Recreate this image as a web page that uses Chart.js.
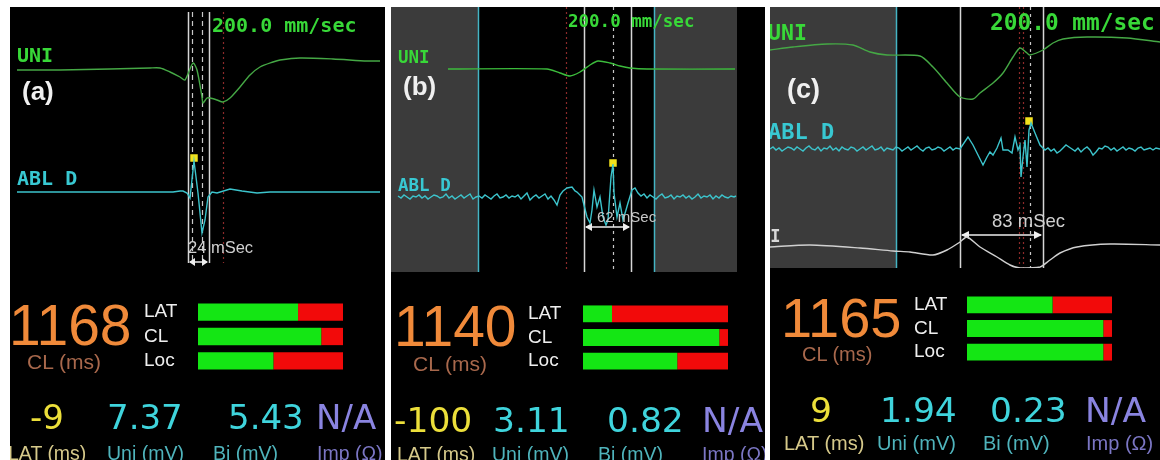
<!DOCTYPE html>
<html>
<head>
<meta charset="utf-8">
<script src="https://cdn.jsdelivr.net/npm/chart.js@4.4.1/dist/chart.umd.min.js"></script>
<style>
  html, body { margin: 0; padding: 0; background: #fff; }
  #page { position: relative; width: 1160px; height: 460px; overflow: hidden; background: #fff; }
  .panel { position: absolute; top: 7px; height: 453px; background: #000; overflow: hidden; }
  .panel canvas { position: absolute; }
  .t { position: absolute; white-space: nowrap; line-height: 1; }
  .mono { font-family: "DejaVu Sans Mono", monospace; font-weight: bold; }
  .sans { font-family: "Liberation Sans", Arial, sans-serif; }
  .bold { font-weight: bold; }
  .dv { font-family: "DejaVu Sans", sans-serif; }
</style>
</head>
<body>
<div id="page">
  <div class="panel" id="pa" style="left:10px;width:375px"></div>
  <div class="panel" id="pb" style="left:391px;width:374px"></div>
  <div class="panel" id="pc" style="left:770px;width:390px"></div>
</div>
<script>
// samples counted from the left edge of each strip, amplitude relative to the trace baseline

// (a)
const uniA = [[7,0],[50,0],[100,1],[140,2],[150,2],[160,-2],[170,-7],[175,-10],[183,7],[187,0],[192,-27],[193,-33],[197,-28],[200,-28],[207,-30],[213,-32],[220,-28],[230,-17],[240,-5],[250,3],[263,8],[270,10],[290,12],[323,11],[357,9],[370,9]];
const ablA = [[7,0],[100,0],[163,0],[170,1],[173,1],[177,-1],[180,-6],[184,31],[188,-1],[192,-41],[195,-28],[198,-5],[202,0],[207,-1],[220,3],[232,1],[247,-1],[260,0],[370,0]];
const latA = [[184,34]];
const solidA = [178, 199];
const dashA = [182, 192];
const redA = [213];

// (b)
const uniB = [[57,0],[156,0],[169,-4],[179,-7],[189,-3],[199,4],[207,8],[219,6],[229,3],[239,1],[256,0],[344,0]];
const ablB = [[7,1],[10,-1],[13,2],[16,0],[19,-2],[22,1],[25,0],[28,2],[31,-1],[34,1],[37,-2],[40,0],[43,2],[46,1],[49,-1],[52,0],[55,3],[58,-1],[61,1],[64,-2],[67,0],[70,2],[73,-1],[76,1],[79,3],[82,-2],[85,0],[88,1],[91,-1],[94,2],[97,0],[100,-2],[103,1],[106,3],[109,-1],[112,0],[115,2],[118,-1],[121,1],[124,0],[127,2],[130,-2],[133,1],[136,4],[139,-3],[142,0],[145,2],[148,-1],[151,1],[154,3],[157,-2],[160,1],[163,-3],[166,-8],[169,2],[172,6],[176,9],[181,10],[184,6],[186,5],[191,0],[196,-20],[199,-26],[201,-13],[203,7],[206,-10],[209,0],[212,-20],[215,-28],[217,-23],[220,20],[222,33],[223,4],[226,-20],[229,-6],[232,-23],[235,-13],[237,-6],[241,7],[244,9],[247,4],[250,1],[253,3],[256,-1],[259,2],[262,0],[265,-2],[268,1],[271,3],[274,-1],[277,0],[280,2],[283,-2],[286,1],[289,0],[292,2],[295,-1],[298,1],[301,-2],[304,0],[307,3],[310,-1],[313,1],[316,0],[319,2],[322,-2],[325,1],[328,-1],[331,2],[334,0],[337,-1],[340,1],[343,0],[345,1]];
const latB = [[222,34]];
const windowB = [87, 263];
const solidB = [193, 240];
const dotB = [222];
const redB = [175];

// (c)
const uniC = [[0,0],[23,3],[57,6],[83,5],[100,-2],[117,-5],[150,-6],[163,-17],[177,-33],[190,-47],[203,-49],[210,-43],[223,-33],[233,-23],[243,-7],[250,2],[257,-3],[260,-5],[273,0],[283,7],[293,11],[317,13],[357,12],[390,8]];
const ablC = [[0,0],[3,2],[6,-1],[9,1],[12,-2],[15,0],[18,2],[21,1],[24,-1],[27,2],[30,0],[33,-2],[36,1],[39,3],[42,0],[45,-1],[48,2],[51,-2],[54,1],[57,0],[60,3],[63,-1],[66,1],[69,-2],[72,2],[75,0],[78,-1],[81,2],[84,1],[87,-2],[90,0],[93,2],[96,-1],[99,1],[102,3],[105,-1],[108,0],[111,2],[114,-2],[117,1],[120,0],[123,-1],[126,2],[129,1],[132,-2],[135,0],[138,2],[141,-1],[144,1],[147,3],[150,0],[153,-2],[156,1],[159,2],[162,-1],[165,0],[168,2],[171,1],[174,-2],[177,0],[180,2],[183,-1],[186,1],[190,0],[198,12],[203,4],[208,-6],[213,-16],[217,-8],[220,-3],[223,-6],[227,1],[231,11],[233,-1],[238,-1],[242,-4],[245,12],[248,-1],[250,4],[251,-28],[253,-8],[255,9],[257,-18],[259,19],[261,26],[265,16],[270,4],[275,-1],[278,1],[281,-2],[284,0],[287,-4],[290,-2],[293,1],[296,4],[299,2],[302,0],[305,-2],[308,1],[311,-3],[314,0],[317,2],[320,-1],[323,-6],[326,-3],[329,1],[332,0],[335,3],[338,2],[341,-1],[344,1],[347,-2],[350,0],[353,2],[356,-1],[359,1],[362,0],[365,-2],[368,1],[371,2],[374,-1],[377,0],[380,1],[383,-1],[386,1],[390,0]];
const leadIIC = [[0,0],[40,2],[90,-1],[123,-4],[140,-5],[163,-8],[177,-3],[190,5],[197,10],[210,0],[227,-10],[240,-18],[250,-21],[270,-20],[280,-13],[290,-6],[307,0],[340,3],[390,2]];
const latC = [[259,28]];
const windowC = [126, 999];
const solidC = [190, 273];
const dotC = [260];
const redC = [249, 253];

// quality bars (% green) and readouts
const qualityLabels = ['LAT', 'CL', 'Loc'];
const qualityA = [69, 85, 52];
const qualityB = [20, 94, 65];
const qualityC = [59, 94, 94];
const cycleLength = ['1168', '1140', '1165'];
const readoutA = ['-9', '7.37', '5.43', 'N/A'];
const readoutB = ['-100', '3.11', '0.82', 'N/A'];
const readoutC = ['9', '1.94', '0.23', 'N/A'];
const readoutUnits = ['LAT (ms)', 'Uni (mV)', 'Bi (mV)', 'Imp (Ω)'];
const intervals = ['24 mSec', '62 mSec', '83 mSec'];

const pts = arr => arr.map(p => ({ x: p[0], y: p[1] }));

function markerPlugin(m) {
  return {
    id: 'markers',
    beforeDatasetsDraw(chart) {
      const ctx = chart.ctx, a = chart.chartArea, x = chart.scales.x;
      const top = a.top + m.inset, bottom = a.bottom - m.inset;
      ctx.save();
      if (m.window) {
        const x0 = x.getPixelForValue(m.window[0]);
        const x1 = x.getPixelForValue(m.window[1]);
        ctx.fillStyle = '#3b3b3b';
        if (x0 > a.left) ctx.fillRect(a.left, a.top, x0 - a.left, a.bottom - a.top);
        if (x1 < a.right) ctx.fillRect(x1, a.top, a.right - x1, a.bottom - a.top);
      }
      m.lines.forEach(l => {
        l.at.forEach(t => {
          const px = Math.round(x.getPixelForValue(t)) + 0.5;
          ctx.strokeStyle = l.color;
          ctx.lineWidth = l.width;
          ctx.setLineDash(l.dash);
          ctx.beginPath(); ctx.moveTo(px, top); ctx.lineTo(px, bottom); ctx.stroke();
        });
      });
      ctx.setLineDash([]);
      // interval arrow between the two solid markers
      const ar = m.arrow;
      const xa = x.getPixelForValue(ar.at[0]), xb = x.getPixelForValue(ar.at[1]), y = a.top + ar.y;
      ctx.strokeStyle = '#eeeeee'; ctx.fillStyle = '#eeeeee'; ctx.lineWidth = 1.5;
      ctx.beginPath(); ctx.moveTo(xa + 2, y); ctx.lineTo(xb - 2, y); ctx.stroke();
      [[xa, 1], [xb, -1]].forEach(([px, d]) => {
        ctx.beginPath();
        ctx.moveTo(px + d, y);
        ctx.lineTo(px + d * ar.head, y - 4);
        ctx.lineTo(px + d * ar.head, y + 4);
        ctx.closePath(); ctx.fill();
      });
      ctx.restore();
    }
  };
}

function buildTraceChart(panel, cfg) {
  const cv = document.createElement('canvas');
  cv.width = cfg.w; cv.height = cfg.h;
  cv.style.left = '0px'; cv.style.top = '0px';
  panel.appendChild(cv);
  const scales = { x: { type: 'linear', display: false, min: 0, max: cfg.w } };
  const datasets = [];
  cfg.traces.forEach((tr, i) => {
    const id = 'y' + i;
    scales[id] = { type: 'linear', display: false, min: -(cfg.h - tr.base), max: tr.base };
    datasets.push({
      data: pts(tr.data), yAxisID: id, borderColor: tr.color, borderWidth: 1.4,
      pointRadius: 0, tension: tr.smooth ? 0.25 : 0, fill: false
    });
  });
  datasets.push({
    type: 'scatter', data: pts(cfg.lat), yAxisID: 'y' + cfg.latTrace, showLine: false,
    pointStyle: 'rect', pointRadius: 5.3, backgroundColor: '#f2e21c', borderColor: '#f2e21c', borderWidth: 0
  });
  new Chart(cv, {
    type: 'line',
    data: { datasets },
    options: {
      responsive: false, animation: false, events: [],
      layout: { padding: 0, autoPadding: false },
      plugins: { legend: { display: false }, tooltip: { enabled: false } },
      scales
    },
    plugins: [markerPlugin(cfg.markers)]
  });
}

function buildQualityChart(panel, cfg, values) {
  const cv = document.createElement('canvas');
  cv.width = cfg.w; cv.height = cfg.h;
  cv.style.left = (cfg.left - panel.offsetLeft) + 'px';
  cv.style.top = (cfg.top - 7) + 'px';
  panel.appendChild(cv);
  new Chart(cv, {
    type: 'bar',
    data: {
      labels: qualityLabels,
      datasets: [
        { data: values, backgroundColor: '#14e614' },
        { data: values.map(v => 100 - v), backgroundColor: '#f20a0a' }
      ]
    },
    options: {
      indexAxis: 'y', responsive: false, animation: false, events: [],
      datasets: { bar: { barPercentage: 0.71, categoryPercentage: 1, borderWidth: 0 } },
      layout: { padding: 0, autoPadding: false },
      plugins: { legend: { display: false }, tooltip: { enabled: false } },
      scales: {
        x: { stacked: true, display: false, min: 0, max: 100 },
        y: {
          stacked: true, grid: { display: false }, border: { display: false },
          ticks: { color: '#eeeeee', font: { family: 'Liberation Sans', size: cfg.font }, crossAlign: 'far', padding: 0, autoSkip: false },
          afterFit: ax => { ax.width = cfg.axis; ax.paddingTop = 0; ax.paddingBottom = 0; }
        }
      }
    }
  });
}

function addText(panel, str, left, cy, size, color, cls) {
  const el = document.createElement('div');
  el.className = 't ' + cls;
  el.textContent = str;
  el.style.left = (left - panel.offsetLeft) + 'px';
  el.style.top = (cy - 7 - size * 0.49) + 'px';
  el.style.fontSize = size + 'px';
  el.style.color = color;
  panel.appendChild(el);
}

const GREEN_TXT = '#38d838', CYAN_TXT = '#38c8d2';
const UNI_COL = '#45a845', ABL_COL = '#3cc4cc', II_COL = '#d0d0d0';
const WHITE_LINE = '#d6d6d6', DOT_LINE = '#c8c8c8', RED_LINE = '#8c2a2a', CYAN_LINE = '#44b4c4';
const ORANGE = '#f08a3a', CL_COL = '#a8684c', YEL = '#ecdf3a', NUM_CYAN = '#3fd4dc', PURPLE = '#8a84e0';
const unitCols = ['#d6c98a', '#4fb4bc', '#4fb4bc', '#7b76c4'];

function addReadouts(panel, vals, xs, cy, size, unitXs, unitCy, unitSize) {
  const cols = [YEL, NUM_CYAN, NUM_CYAN, PURPLE];
  vals.forEach((v, i) => addText(panel, v, xs[i], cy, size, cols[i], 'dv'));
  readoutUnits.forEach((u, i) => addText(panel, u, unitXs[i], unitCy, unitSize, unitCols[i], 'sans'));
}

const pa = document.getElementById('pa');
const pb = document.getElementById('pb');
const pc = document.getElementById('pc');

// ---- panel (a)
buildTraceChart(pa, {
  w: 375, h: 261, latTrace: 1, lat: latA,
  traces: [
    { data: uniA, base: 63, color: UNI_COL, smooth: true },
    { data: ablA, base: 185, color: ABL_COL }
  ],
  markers: {
    inset: 5, window: null,
    lines: [
      { at: solidA, color: WHITE_LINE, width: 1.5, dash: [] },
      { at: dashA, color: DOT_LINE, width: 1.2, dash: [5, 4] },
      { at: redA, color: RED_LINE, width: 1.2, dash: [2, 3] }
    ],
    arrow: { at: solidA, y: 255, head: 7 }
  }
});
buildQualityChart(pa, { left: 144, top: 300, w: 199, h: 73, axis: 54, font: 19 }, qualityA);
addText(pa, '200.0 mm/sec', 212, 25, 20, GREEN_TXT, 'mono');
addText(pa, 'UNI', 17, 55, 20, GREEN_TXT, 'mono');
addText(pa, '(a)', 22, 91, 26, '#f0f0f0', 'sans bold');
addText(pa, 'ABL D', 17, 178, 20, CYAN_TXT, 'mono');
addText(pa, intervals[0], 188, 247, 16.5, '#d0d0d0', 'sans');
addText(pa, cycleLength[0], 9, 325, 57, ORANGE, 'sans');
addText(pa, 'CL (ms)', 27, 361, 21, CL_COL, 'sans');
addReadouts(pa, readoutA, [30, 107, 228, 316], 417, 34, [8, 107, 213, 317], 454, 19.5);

// ---- panel (b)
buildTraceChart(pb, {
  w: 346, h: 265, latTrace: 1, lat: latB,
  traces: [
    { data: uniB, base: 62, color: '#3cbc3c', smooth: true },
    { data: ablB, base: 190, color: ABL_COL }
  ],
  markers: {
    inset: 0, window: windowB,
    lines: [
      { at: windowB, color: CYAN_LINE, width: 1.5, dash: [] },
      { at: solidB, color: WHITE_LINE, width: 1.5, dash: [] },
      { at: dotB, color: DOT_LINE, width: 1.2, dash: [3, 4] },
      { at: redB, color: RED_LINE, width: 1.2, dash: [2, 3] }
    ],
    arrow: { at: solidB, y: 220, head: 8 }
  }
});
buildQualityChart(pb, { left: 528, top: 302, w: 200, h: 71, axis: 55, font: 19 }, qualityB);
addText(pb, '200.0 mm/sec', 568, 22, 17.5, GREEN_TXT, 'mono');
addText(pb, 'UNI', 398, 58, 17.5, GREEN_TXT, 'mono');
addText(pb, '(b)', 403, 86, 26, '#f0f0f0', 'sans bold');
addText(pb, 'ABL D', 398, 186, 17.5, CYAN_TXT, 'mono');
addText(pb, intervals[1], 597, 216, 15, '#c8c8c8', 'sans');
addText(pb, cycleLength[1], 394, 326, 57, ORANGE, 'sans');
addText(pb, 'CL (ms)', 413, 363, 21, CL_COL, 'sans');
addReadouts(pb, readoutB, [394, 493, 607, 702], 420, 34.5, [397, 492, 598, 702], 455, 19.5);

// ---- panel (c)
buildTraceChart(pc, {
  w: 390, h: 261, latTrace: 1, lat: latC,
  traces: [
    { data: uniC, base: 43, color: UNI_COL, smooth: true },
    { data: ablC, base: 142, color: ABL_COL },
    { data: leadIIC, base: 240, color: II_COL, smooth: true }
  ],
  markers: {
    inset: 0, window: windowC,
    lines: [
      { at: [windowC[0]], color: CYAN_LINE, width: 1.5, dash: [] },
      { at: solidC, color: WHITE_LINE, width: 1.5, dash: [] },
      { at: redC, color: RED_LINE, width: 1.2, dash: [2, 3] },
      { at: dotC, color: DOT_LINE, width: 1.2, dash: [3, 4] }
    ],
    arrow: { at: solidC, y: 228, head: 9 }
  }
});
buildQualityChart(pc, { left: 914, top: 293, w: 198, h: 71, axis: 53, font: 19 }, qualityC);
addText(pc, '200.0 mm/sec', 990, 22, 22.8, GREEN_TXT, 'mono');
addText(pc, 'UNI', 768, 33, 21.5, GREEN_TXT, 'mono');
addText(pc, '(c)', 787, 89, 27, '#f0f0f0', 'sans bold');
addText(pc, 'ABL D', 768, 132, 22, CYAN_TXT, 'mono');
addText(pc, 'II', 760, 236, 17, '#d8d8d8', 'mono');
addText(pc, intervals[2], 992, 221, 18.5, '#d0d0d0', 'sans');
addText(pc, cycleLength[2], 781, 317, 56, ORANGE, 'sans');
addText(pc, 'CL (ms)', 802, 354, 20, CL_COL, 'sans');
addReadouts(pc, readoutC, [810, 880, 990, 1085], 410, 34.5, [784, 877, 983, 1086], 443, 20);
</script>
</body>
</html>
